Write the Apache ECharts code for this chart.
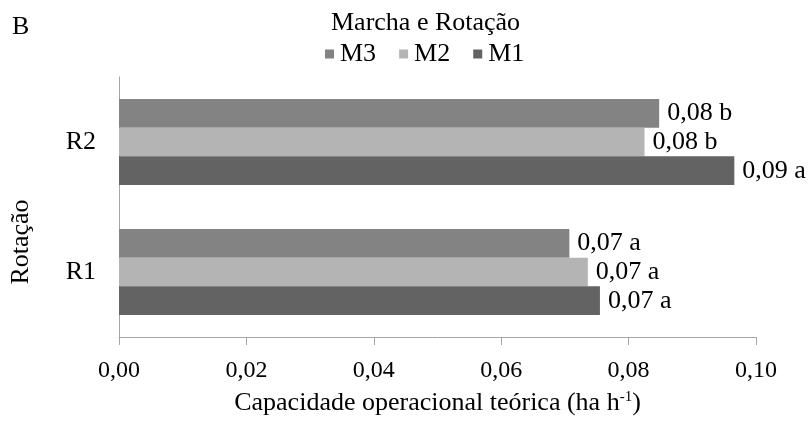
<!DOCTYPE html>
<html>
<head>
<meta charset="utf-8">
<script src="https://cdn.jsdelivr.net/npm/echarts@6/dist/echarts.min.js"></script>
<style>html,body{margin:0;padding:0;background:#fff}#c{width:812px;height:423px}</style>
</head>
<body>
<div id="c"></div>
<script>
const categories = ['R1', 'R2'];
const seriesNames = ['M3', 'M2', 'M1'];
const legendOrder = ['M3', 'M2', 'M1'];
const valuesM1 = [0.0755, 0.0966];
const valuesM2 = [0.0736, 0.0825];
const valuesM3 = [0.0707, 0.0848];
const labelsM1 = ['0,07 a', '0,09 a'];
const labelsM2 = ['0,07 a', '0,08 b'];
const labelsM3 = ['0,07 a', '0,08 b'];
const xTicks = ['0,00', '0,02', '0,04', '0,06', '0,08', '0,10'];

const FONT = '"Liberation Serif", "Times New Roman", serif';
const colors = { M1: '#636363', M2: '#b4b4b4', M3: '#838383' };
const valueSets = { M1: valuesM1, M2: valuesM2, M3: valuesM3 };
const labelSets = { M1: labelsM1, M2: labelsM2, M3: labelsM3 };

const chart = echarts.init(document.getElementById('c'), null, { renderer: 'canvas' });
chart.setOption({
  animation: false,
  textStyle: { fontFamily: FONT },
  title: [
    { text: 'B', left: 12, top: 14, padding: 0, textStyle: { fontFamily: FONT, fontWeight: 'normal', fontSize: 26, color: '#000' } },
    { text: 'Marcha e Rotação', left: 331, top: 10, padding: 0, textStyle: { fontFamily: FONT, fontWeight: 'normal', fontSize: 26, color: '#000' } }
  ],
  legend: {
    data: legendOrder,
    top: 41,
    left: 325,
    padding: 0,
    icon: 'rect',
    itemWidth: 9,
    itemHeight: 9,
    itemGap: 23,
    textStyle: { fontFamily: FONT, fontSize: 26, color: '#000', padding: [0, 0, 0, 1] }
  },
  grid: { left: 118, right: 56, top: 77, bottom: 86 },
  xAxis: {
    type: 'value',
    min: 0,
    max: 0.1,
    interval: 0.02,
    axisLine: { show: true, lineStyle: { color: '#a6a6a6', width: 1 } },
    axisTick: { show: true, length: 8, lineStyle: { color: '#a6a6a6' } },
    splitLine: { show: false },
    axisLabel: {
      fontFamily: FONT, fontSize: 24, color: '#000', margin: 22,
      formatter: (v) => xTicks[Math.round(v / 0.02)]
    },
    name: '{a|Capacidade operacional teórica (ha h}{s|-1}{a|)}',
    nameLocation: 'middle',
    nameGap: 53,
    nameTextStyle: {
      rich: {
        a: { fontFamily: FONT, fontSize: 26, color: '#000' },
        s: { fontFamily: FONT, fontSize: 15, color: '#000', padding: [0, 0, 11, 0] }
      }
    }
  },
  yAxis: {
    type: 'category',
    data: categories,
    axisLine: { show: true, lineStyle: { color: '#a6a6a6', width: 1 } },
    axisTick: { show: false },
    axisLabel: { fontFamily: FONT, fontSize: 26, color: '#000', margin: 23 },
    name: 'Rotação',
    nameLocation: 'middle',
    nameGap: 85,
    nameTextStyle: { fontFamily: FONT, fontSize: 26, color: '#000', padding: [0, 70, 0, 0] }
  },
  series: seriesNames.map((n) => ({
    name: n,
    type: 'bar',
    data: valueSets[n],
    barWidth: 28.7,
    barGap: '0%',
    itemStyle: { color: colors[n] },
    label: {
      show: true,
      position: 'right',
      distance: 8,
      fontFamily: FONT,
      fontSize: 26,
      color: '#000',
      formatter: (p) => labelSets[n][p.dataIndex]
    }
  }))
});
</script>
</body>
</html>
